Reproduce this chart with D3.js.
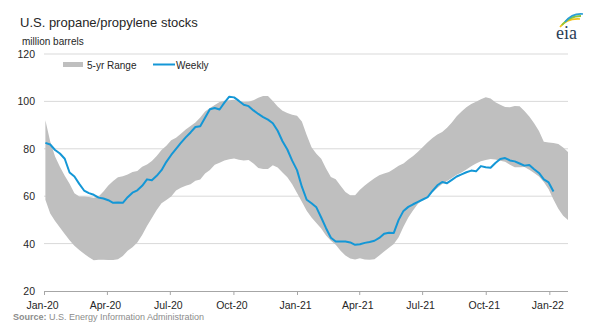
<!DOCTYPE html>
<html>
<head>
<meta charset="utf-8">
<script src="https://cdn.jsdelivr.net/npm/d3@7"></script>
<style>
  html, body { margin: 0; padding: 0; background: #fff; }
  svg { display: block; font-family: "Liberation Sans", Arial, sans-serif; }
</style>
</head>
<body>
<svg id="chart" width="600" height="334"></svg>
<script>
// ---- data ----
const firstWeek = "2020-01-03";           // week ending dates, weekly steps
const axisEnd = "2022-01-28";
const yTicks = [20, 40, 60, 80, 100, 120];
const xTickDates = ["2020-01-01","2020-04-01","2020-07-01","2020-10-01","2021-01-01",
                    "2021-04-01","2021-07-01","2021-10-01","2022-01-01"];
const xTickLabels = ["Jan-20","Apr-20","Jul-20","Oct-20","Jan-21","Apr-21","Jul-21","Oct-21","Jan-22"];

const rangeMax = [92.0,83.1,76.7,72.4,68.6,65.3,61.2,59.9,59.9,59.7,
  59.3,59.9,62.0,64.5,66.4,68.0,68.4,69.2,70.2,70.6,
  72.4,73.4,74.8,77.0,79.5,81.3,83.6,84.7,86.4,88.1,
  89.6,91.1,93.2,95.7,97.2,98.5,99.7,100.3,100.5,100.7,
  100.2,99.7,99.8,100.5,101.5,102.3,102.3,100.2,97.9,96.1,
  95.1,94.4,93.9,91.5,85.8,80.7,77.9,75.8,71.7,68.1,
  67.1,64.4,61.8,60.4,60.4,62.7,64.5,66.1,67.6,68.8,
  69.6,70.2,71.5,72.8,73.8,75.5,77.0,78.8,80.8,82.8,
  84.6,86.0,87.1,88.9,91.1,93.7,95.7,97.5,98.9,99.9,
  100.9,101.7,101.2,99.6,98.6,97.6,97.5,98.1,98.0,96.0,
  93.6,90.8,87.5,83.0,82.7,82.5,82.0,80.5,78.7];

const rangeMin = [58.5,52.7,49.5,46.8,44.1,41.4,39.1,37.3,35.7,34.2,
  33.0,33.2,33.2,33.1,33.1,33.4,34.8,37.0,38.5,40.5,
  43.6,47.4,50.8,54.2,57.0,58.4,59.9,62.4,63.6,64.4,
  65.0,66.5,67.0,69.6,71.1,73.3,74.1,75.1,75.6,75.9,
  75.4,75.1,75.3,73.8,71.9,71.5,71.5,73.1,72.1,70.0,
  68.0,65.0,61.3,57.7,53.9,51.0,48.7,46.4,43.4,41.2,
  39.5,37.0,35.0,33.7,33.3,33.8,33.3,33.2,33.4,35.0,
  36.7,38.3,39.8,42.7,47.1,51.0,54.1,56.8,58.4,60.0,
  61.8,63.5,65.2,66.4,67.7,69.0,70.0,71.3,72.6,73.8,
  74.7,75.3,75.7,75.5,75.0,74.5,73.3,72.2,72.2,72.3,
  71.2,69.8,68.3,66.0,62.9,58.6,54.7,51.7,50.0];

const weekly = [82.5,81.8,79.5,78.0,75.8,70.0,68.3,65.2,62.4,61.3,
  60.6,59.4,59.0,58.3,57.2,57.3,57.2,59.6,61.5,62.5,
  64.4,67.1,66.7,68.6,71.0,74.5,77.4,80.0,82.5,84.8,
  86.9,89.2,89.5,93.1,96.7,97.2,96.6,99.5,102.0,101.7,
  100.2,98.6,98.0,96.2,94.7,93.4,92.3,90.8,87.6,83.2,
  79.7,75.0,71.0,64.0,58.5,57.0,55.3,51.0,46.5,42.5,
  40.9,40.9,40.9,40.5,39.5,39.7,40.3,40.7,41.2,42.4,
  44.2,44.6,44.5,50.0,53.8,55.5,56.6,57.6,58.6,59.6,
  62.2,64.6,66.0,65.5,66.9,68.3,69.2,70.1,70.8,70.5,
  72.7,72.2,72.0,74.0,75.7,76.1,75.1,74.7,73.8,72.9,
  73.2,71.4,69.8,67.1,65.8,62.0];

// ---- setup ----
const parse = d3.utcParse("%Y-%m-%d");
const start = parse(firstWeek);
const weekDate = i => d3.utcDay.offset(start, 7 * i);

const svg = d3.select("#chart");
const x = d3.scaleUtc().domain([parse("2020-01-01"), parse(axisEnd)]).range([44, 568]);
const y = d3.scaleLinear().domain([20, 120]).range([291, 54]);

// gridlines
svg.append("g").selectAll("line")
  .data(yTicks.filter(t => t > 20)).join("line")
  .attr("x1", 44).attr("x2", 568)
  .attr("y1", d => y(d)).attr("y2", d => y(d))
  .attr("stroke", "#d9d9d9").attr("stroke-width", 1);

// y tick labels
svg.append("g").selectAll("text")
  .data(yTicks).join("text")
  .attr("x", 35).attr("y", d => y(d) + 4)
  .attr("text-anchor", "end")
  .attr("font-size", "10.5px").attr("fill", "#262626")
  .text(d => d);

// range area
const rangeData = rangeMax.map((v, i) => ({ d: weekDate(i), hi: v, lo: rangeMin[i] }));
svg.append("path")
  .datum(rangeData)
  .attr("fill", "#bfbfbf")
  .attr("d", d3.area().x(p => x(p.d)).y0(p => y(p.lo)).y1(p => y(p.hi)));

// weekly line
const lineData = weekly.map((v, i) => ({ d: weekDate(i), v }));
svg.append("path")
  .datum(lineData)
  .attr("fill", "none")
  .attr("stroke", "#1497d6")
  .attr("stroke-width", 2)
  .attr("stroke-linejoin", "round")
  .attr("d", d3.line().x(p => x(p.d)).y(p => y(p.v)));

// x axis
const xAxis = d3.axisBottom(x)
  .tickValues(xTickDates.map(parse))
  .tickSize(4)
  .tickFormat((d, i) => xTickLabels[i]);
const gx = svg.append("g").attr("transform", "translate(0,291)").call(xAxis);
gx.select(".domain").attr("stroke", "#a6a6a6").attr("d", "M44,0.5H568");
gx.selectAll(".tick line").attr("stroke", "#a6a6a6");
gx.selectAll(".tick text")
  .attr("font-family", "Liberation Sans, Arial, sans-serif")
  .attr("font-size", "10.5px").attr("fill", "#262626").attr("dy", "1.0em").attr("dx", "-2");

// title and unit
svg.append("text").attr("x", 20).attr("y", 27)
  .attr("font-size", "13px").attr("fill", "#262626")
  .text("U.S. propane/propylene stocks");
svg.append("text").attr("x", 22).attr("y", 45)
  .attr("font-size", "10px").attr("fill", "#262626")
  .text("million barrels");

// legend
const lg = svg.append("g");
lg.append("rect").attr("x", 63).attr("y", 62).attr("width", 20).attr("height", 5).attr("fill", "#bfbfbf");
lg.append("text").attr("x", 87).attr("y", 68.5).attr("font-size", "10px").attr("fill", "#262626").text("5-yr Range");
lg.append("line").attr("x1", 153).attr("x2", 175).attr("y1", 64.5).attr("y2", 64.5)
  .attr("stroke", "#1497d6").attr("stroke-width", 2);
lg.append("text").attr("x", 176).attr("y", 68.5).attr("font-size", "10px").attr("fill", "#262626").text("Weekly");

// source
const src = svg.append("text").attr("x", 13).attr("y", 320).attr("font-size", "9px").attr("fill", "#8c8c8c");
src.append("tspan").attr("font-weight", "bold").text("Source:");
src.append("tspan").text(" U.S. Energy Information Administration");

// eia logo
const logo = svg.append("g");
logo.append("path").attr("d", "M560,27 Q567,18 580,19").attr("fill", "none").attr("stroke", "#f4c21b").attr("stroke-width", 1.6);
logo.append("path").attr("d", "M562,25 Q569,16 581,16").attr("fill", "none").attr("stroke", "#8cc63e").attr("stroke-width", 1.8);
logo.append("path").attr("d", "M565,22 Q572,13 583,14").attr("fill", "none").attr("stroke", "#2a9fd6").attr("stroke-width", 1.6);
logo.append("text").attr("x", 556).attr("y", 39)
  .attr("font-family", "Liberation Serif, DejaVu Serif, serif")
  .attr("font-size", "18px").attr("fill", "#2b3d55").text("eia");
</script>
</body>
</html>
